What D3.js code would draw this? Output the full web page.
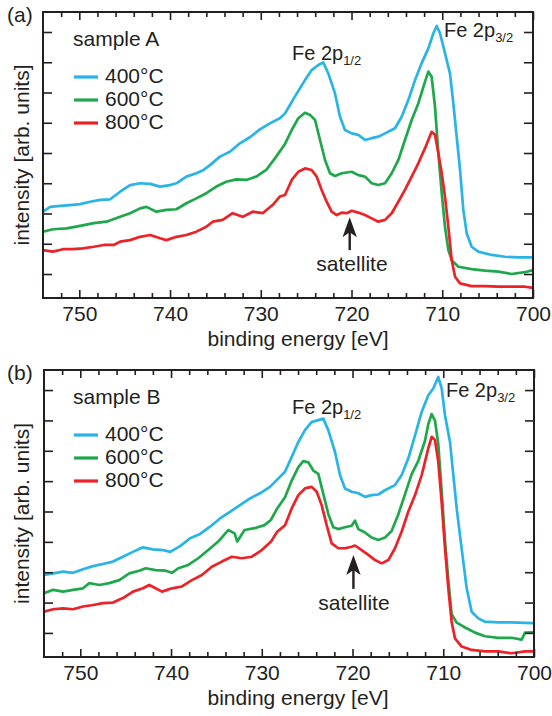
<!DOCTYPE html>
<html><head><meta charset="utf-8">
<script src="https://cdn.jsdelivr.net/npm/d3@7"></script>
<style>
body{margin:0;background:#fff}
svg{display:block}
text{font-family:"Liberation Sans",Arial,Helvetica,sans-serif;fill:#231f20}
</style>
</head><body><svg id="c" width="552" height="716"></svg>
<script>
// ---------- data (binding energy eV, intensity arb. units) ----------
const a400 = [[754.0,3.06],[753.2,3.22],[752.1,3.25],[751.0,3.28],[749.9,3.31],[748.8,3.39],[747.7,3.45],[746.6,3.47],[745.5,3.72],[744.4,3.94],[743.3,4.00],[742.2,3.98],[741.1,3.89],[740.0,3.94],[739.3,4.00],[738.2,4.22],[737.1,4.33],[736.3,4.44],[735.6,4.60],[734.5,4.88],[733.4,5.04],[732.3,5.32],[731.2,5.52],[730.1,5.78],[729.0,5.98],[727.9,6.15],[727.33,6.31],[726.8,6.58],[726.23,6.87],[725.13,7.41],[724.39,7.74],[723.66,7.91],[723.11,7.99],[722.56,7.63],[721.82,6.97],[721.27,6.20],[720.72,5.76],[719.98,5.65],[719.25,5.60],[718.51,5.43],[717.78,5.49],[717.05,5.54],[716.31,5.65],[715.21,5.82],[714.47,6.20],[713.74,6.75],[713.0,7.41],[712.27,7.97],[711.53,8.46],[710.98,8.96],[710.61,9.20],[710.25,8.96],[709.70,8.30],[709.15,7.63],[708.78,6.64],[708.41,5.54],[708.04,4.44],[707.68,3.12],[707.31,2.35],[706.76,1.90],[706.03,1.74],[704.55,1.63],[703.09,1.57],[701.62,1.55],[700.0,1.55]];
const a600 = [[754.0,2.40],[752.9,2.48],[751.4,2.51],[749.9,2.59],[748.4,2.68],[747.0,2.73],[745.5,2.89],[744.4,3.01],[743.3,3.17],[742.6,3.22],[741.5,3.06],[740.4,3.12],[739.3,3.14],[738.2,3.34],[737.1,3.50],[736.0,3.67],[734.9,3.89],[733.8,4.05],[732.7,4.13],[731.6,4.11],[730.5,4.22],[729.4,4.44],[728.3,4.88],[727.33,5.30],[726.59,5.76],[725.86,6.15],[725.13,6.33],[724.57,6.26],[724.02,6.09],[723.47,5.43],[722.92,4.77],[722.37,4.33],[721.82,4.24],[721.08,4.33],[719.98,4.38],[719.25,4.27],[718.51,4.22],[717.78,4.00],[717.05,3.94],[716.31,4.00],[715.57,4.33],[714.84,4.77],[714.11,5.43],[713.37,6.09],[712.64,6.64],[711.90,7.36],[711.53,7.69],[711.17,7.52],[710.80,6.53],[710.43,4.99],[710.06,3.67],[709.70,2.56],[709.33,1.79],[708.96,1.46],[708.23,1.24],[706.76,1.16],[705.29,1.11],[703.82,1.08],[702.35,1.00],[700.88,1.06],[700.0,1.13]];
const a800 = [[754.0,1.79],[752.9,1.74],[751.8,1.82],[750.7,1.82],[749.6,1.85],[748.4,1.90],[747.3,1.96],[746.2,1.96],[745.5,2.07],[744.4,2.12],[743.3,2.23],[742.2,2.29],[741.1,2.18],[740.4,2.12],[739.3,2.23],[738.2,2.29],[737.1,2.40],[736.0,2.56],[735.3,2.73],[734.2,2.79],[733.1,3.01],[732.0,2.89],[730.9,3.06],[729.8,3.01],[728.7,3.28],[727.9,3.56],[727.33,3.61],[726.59,4.11],[725.86,4.38],[725.13,4.49],[724.39,4.44],[723.84,4.22],[723.29,3.78],[722.74,3.39],[722.19,3.06],[721.63,2.95],[721.08,3.03],[720.53,3.01],[719.98,3.09],[719.25,3.03],[718.51,2.95],[717.78,2.84],[717.05,2.73],[716.31,2.79],[715.57,3.01],[714.84,3.39],[714.11,3.78],[713.37,4.22],[712.64,4.66],[711.90,5.16],[711.17,5.70],[710.80,5.60],[710.43,4.99],[710.06,4.33],[709.70,3.56],[709.33,2.56],[708.96,1.46],[708.59,0.91],[708.04,0.69],[706.76,0.60],[705.29,0.60],[703.82,0.58],[702.35,0.58],[700.88,0.58],[700.0,0.54]];

const b400 = [[754.0,2.91],[753.0,2.96],[751.9,3.02],[750.8,2.98],[749.7,3.10],[748.6,3.20],[747.5,3.27],[746.4,3.35],[745.3,3.51],[744.2,3.67],[743.1,3.82],[742.0,3.75],[740.9,3.73],[740.1,3.67],[739.0,3.86],[737.9,4.12],[736.8,4.26],[735.7,4.50],[734.6,4.77],[733.5,4.99],[732.4,5.21],[731.3,5.43],[730.2,5.60],[729.1,5.81],[728.0,6.14],[727.44,6.31],[726.70,6.80],[725.97,7.29],[725.24,7.68],[724.50,7.95],[723.77,8.01],[723.22,8.06],[722.67,7.68],[721.93,6.96],[721.38,6.20],[720.83,5.76],[720.09,5.65],[719.36,5.60],[718.62,5.48],[717.89,5.54],[717.16,5.56],[716.42,5.70],[715.32,5.87],[714.58,6.20],[713.85,6.75],[713.11,7.51],[712.38,8.28],[711.65,8.83],[711.10,9.05],[710.55,9.43],[710.17,9.05],[709.81,8.17],[709.26,7.29],[708.89,6.20],[708.52,5.10],[708.16,4.22],[707.79,3.35],[707.42,2.47],[706.87,1.70],[706.14,1.48],[705.40,1.37],[703.93,1.35],[702.46,1.35],[700.99,1.33],[700.0,1.32]];
const b600 = [[754.0,2.31],[753.0,2.42],[751.9,2.36],[750.8,2.42],[749.7,2.47],[749.0,2.64],[747.9,2.58],[746.8,2.64],[745.7,2.74],[744.6,2.96],[743.5,3.05],[742.8,3.13],[741.7,3.07],[740.6,3.05],[739.9,2.98],[739.2,3.13],[738.1,3.24],[737.0,3.46],[735.9,3.73],[734.8,4.01],[733.7,4.39],[733.0,4.28],[732.7,4.01],[731.9,4.39],[730.8,4.45],[729.7,4.55],[729.0,4.72],[728.3,5.10],[727.44,5.47],[726.70,6.02],[725.97,6.46],[725.42,6.66],[724.87,6.62],[724.32,6.35],[723.77,6.24],[723.22,5.58],[722.67,4.92],[722.12,4.48],[721.57,4.42],[720.83,4.48],[720.09,4.53],[719.73,4.70],[719.36,4.42],[718.62,4.31],[717.89,4.14],[717.16,4.06],[716.42,4.14],[715.69,4.36],[714.95,4.91],[714.21,5.57],[713.48,6.23],[712.75,6.67],[712.01,7.33],[711.65,7.88],[711.28,8.21],[710.91,7.99],[710.55,7.22],[710.18,5.69],[709.81,4.04],[709.44,2.72],[709.08,1.62],[708.52,1.34],[707.60,1.18],[706.50,1.01],[705.40,0.89],[703.93,0.84],[702.46,0.84],[701.36,0.78],[700.99,1.01],[700.0,1.02]];
const b800 = [[754.0,1.70],[753.0,1.78],[751.9,1.81],[750.8,1.78],[749.7,1.87],[748.6,1.92],[747.5,1.98],[746.4,2.00],[745.3,2.15],[744.2,2.36],[743.1,2.47],[742.4,2.58],[741.7,2.47],[741.0,2.36],[739.9,2.47],[738.8,2.53],[737.7,2.74],[736.6,2.91],[735.5,3.18],[734.4,3.35],[733.3,3.51],[732.2,3.46],[731.1,3.51],[730.0,3.73],[729.0,4.00],[728.3,4.33],[727.44,4.55],[726.70,5.10],[725.97,5.54],[725.24,5.76],[724.50,5.81],[723.95,5.65],[723.40,5.21],[722.85,4.55],[722.30,3.95],[721.57,3.79],[720.83,3.79],[720.09,3.84],[719.73,3.88],[718.99,3.73],[718.26,3.57],[717.52,3.40],[716.79,3.29],[716.05,3.40],[715.32,3.79],[714.58,4.34],[713.85,5.00],[713.11,5.54],[712.38,6.20],[711.65,7.08],[711.28,7.46],[710.91,7.35],[710.55,6.64],[710.18,5.32],[709.81,3.79],[709.44,2.47],[709.08,1.37],[708.71,0.82],[707.97,0.55],[706.87,0.44],[705.40,0.39],[703.93,0.39],[702.46,0.33],[700.99,0.39],[700.0,0.39]];

const seriesLabels = ["400°C","600°C","800°C"];
const xMajorTicks = [750,740,730,720,710,700];
const xMinorTicks = [752,748,746,744,742,738,736,734,732,728,726,724,722,718,716,714,712,708,706,704,702];
const yTicks = [1,2,3,4,5,6,7,8,9];
const xDomain = [754,700];
const yDomain = [0.207,9.661];

// ---------- layout ----------
const colors = ["#28b4e6","#1fa84b","#ec2227"];
const ink = "#231f20";
const panels = [
  {tag:"(a)", sample:"sample A", data:[a400,a600,a800], left:43, right:533, top:12, bottom:298,
   fe12:[726.56,8.07], fe32:[709.81,8.83], sat:[719.95,1.10], arrow:[720.2,2.88,1.79]},
  {tag:"(b)", sample:"sample B", data:[b400,b600,b800], left:44, right:534, top:370, bottom:657,
   fe12:[726.67,8.20], fe32:[709.70,8.76], sat:[719.84,1.76], arrow:[719.9,3.57,2.45]}
];

const svg = d3.select("#c");
const FS = 21;

panels.forEach((p,i)=>{
  const x = d3.scaleLinear().domain(xDomain).range([p.left,p.right]);
  const y = d3.scaleLinear().domain(yDomain).range([p.bottom,p.top]);
  const g = svg.append("g");

  const clipId = "clip"+i;
  svg.append("clipPath").attr("id",clipId).append("rect")
    .attr("x",p.left).attr("y",p.top).attr("width",p.right-p.left).attr("height",p.bottom-p.top);

  // lines
  const line = d3.line().x(d=>x(d[0])).y(d=>y(d[1]));
  p.data.forEach((s,k)=>{
    g.append("path").datum(s).attr("d",line).attr("clip-path",`url(#${clipId})`)
      .attr("fill","none").attr("stroke",colors[k]).attr("stroke-width",2.7)
      .attr("stroke-linejoin","round").attr("stroke-linecap","round");
  });

  // axes
  const styleAxis = sel=>{
    sel.select(".domain").remove();
    sel.selectAll("line").attr("stroke",ink).attr("stroke-width",1.6);
    sel.selectAll("text").attr("font-size",FS).attr("fill",ink)
      .attr("font-family",'"Liberation Sans",Arial,sans-serif');
  };
  g.append("g").attr("transform",`translate(0,${p.bottom})`)
    .call(d3.axisBottom(x).tickValues(xMajorTicks).tickSize(-8).tickPadding(8).tickFormat(d3.format("d"))).call(styleAxis);
  g.append("g").attr("transform",`translate(0,${p.bottom})`)
    .call(d3.axisBottom(x).tickValues(xMinorTicks).tickSize(-5).tickFormat("")).call(styleAxis);
  g.append("g").attr("transform",`translate(0,${p.top})`)
    .call(d3.axisTop(x).tickValues(xMajorTicks).tickSize(-8).tickFormat("")).call(styleAxis);
  g.append("g").attr("transform",`translate(0,${p.top})`)
    .call(d3.axisTop(x).tickValues(xMinorTicks).tickSize(-5).tickFormat("")).call(styleAxis);
  g.append("g").attr("transform",`translate(${p.left},0)`)
    .call(d3.axisLeft(y).tickValues(yTicks).tickSize(-9).tickFormat("")).call(styleAxis);
  g.append("g").attr("transform",`translate(${p.right},0)`)
    .call(d3.axisRight(y).tickValues(yTicks).tickSize(-9).tickFormat("")).call(styleAxis);

  // frame
  g.append("rect").attr("x",p.left).attr("y",p.top).attr("width",p.right-p.left).attr("height",p.bottom-p.top)
    .attr("fill","none").attr("stroke",ink).attr("stroke-width",2);

  // axis titles
  g.append("text").attr("x",298).attr("y",p.bottom+48).attr("text-anchor","middle")
    .attr("font-size",FS).text("binding energy [eV]");
  g.append("text").attr("transform",`translate(29,${(p.top+p.bottom)/2}) rotate(-90)`)
    .attr("text-anchor","middle").attr("font-size",FS).text("intensity [arb. units]");

  // panel tag
  g.append("text").attr("x",7).attr("y",p.top+10).attr("font-size",FS).text(p.tag);

  // legend
  g.append("text").attr("x",73).attr("y",p.top+34).attr("font-size",FS).text(p.sample);
  seriesLabels.forEach((lab,k)=>{
    const ly = p.top+65+k*23;
    g.append("line").attr("x1",74).attr("x2",98).attr("y1",ly).attr("y2",ly)
      .attr("stroke",colors[k]).attr("stroke-width",3.2);
    g.append("text").attr("x",105).attr("y",ly+6).attr("font-size",FS).text(lab);
  });

  // peak labels
  const fe = (pos,sub)=>{
    const t = g.append("text").attr("x",x(pos[0])).attr("y",y(pos[1])).attr("font-size",20);
    t.append("tspan").text("Fe 2p");
    t.append("tspan").attr("font-size",13).attr("dy",5).text(sub);
  };
  fe(p.fe12,"1/2");
  fe(p.fe32,"3/2");

  // satellite
  g.append("text").attr("x",x(p.sat[0])).attr("y",y(p.sat[1])).attr("text-anchor","middle")
    .attr("font-size",FS).text("satellite");
  const ax = x(p.arrow[0]), tipY = y(p.arrow[1]), tailY = y(p.arrow[2]);
  g.append("line").attr("x1",ax).attr("x2",ax).attr("y1",tailY).attr("y2",tipY+12)
    .attr("stroke",ink).attr("stroke-width",2.4);
  g.append("path")
    .attr("d",`M${ax},${tipY} L${ax+7.2},${tipY+20} L${ax},${tipY+15} L${ax-7.2},${tipY+20} Z`)
    .attr("fill",ink);
});
</script>
</body></html>
